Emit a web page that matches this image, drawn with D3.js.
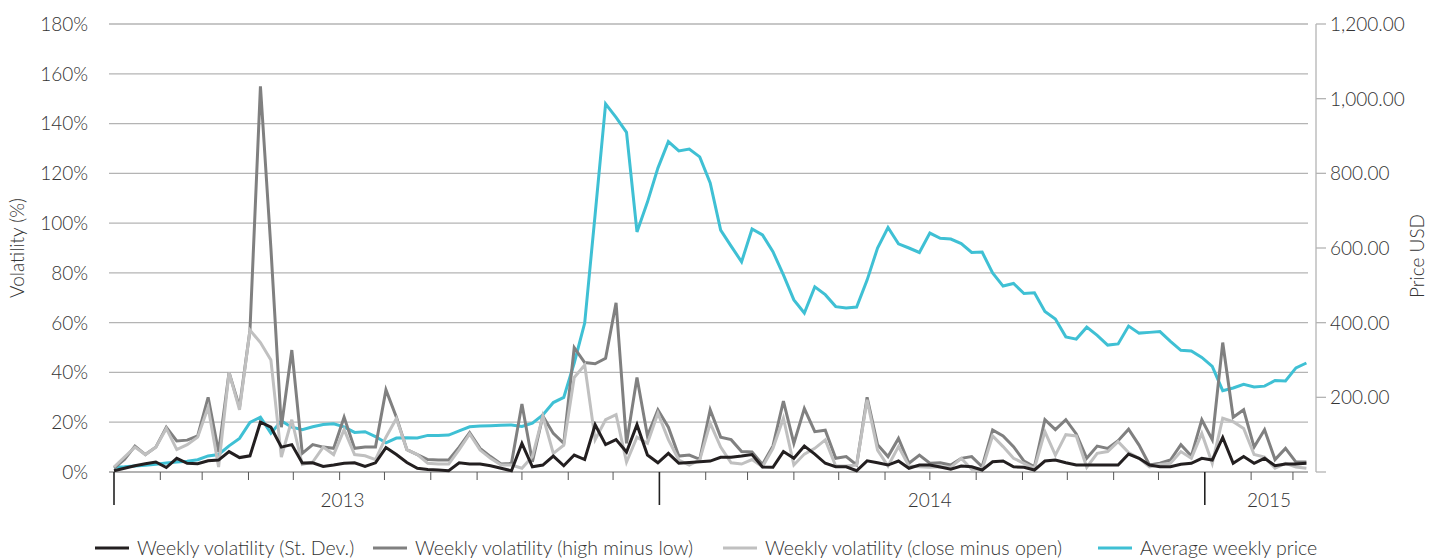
<!DOCTYPE html>
<html>
<head>
<meta charset="utf-8">
<script src="https://cdn.jsdelivr.net/npm/d3@7"></script>
<style>
  html, body { margin: 0; padding: 0; background: #fff; }
  svg text { font-family: Lato, "Open Sans", sans-serif; font-weight: 300; fill: #333333; }
</style>
</head>
<body>
<svg id="chart" width="1429" height="558"></svg>
<script>
// ---------- data ----------
const weekStart = "2013-01-01";
const stdDev = [0.5,1.5,2.5,3.3,4,1.8,5.5,3.5,3.3,4.5,
  4.8,8.2,5.8,6.5,20,18,10,11,3.6,3.7,
  2.2,2.8,3.5,3.7,2.2,3.7,9.8,7,3.8,1.5,
  1,0.8,0.5,3.7,3.2,3.2,2.5,1.5,0.5,11.5,
  2.1,2.8,6.4,2.5,6.8,5,19,11,13,8,
  19,6.8,3.7,7.5,3.5,3.8,4.1,4.4,5.9,5.9,
  6.4,7,2,1.9,8.2,5.5,10.4,7.2,3.5,2.1,
  2.1,0.5,4.5,3.7,2.8,4.4,1.5,2.8,2.8,2,
  1.1,2.4,2.1,0.8,4.1,4.4,2.1,1.9,0.8,4.4,
  4.8,3.7,2.8,2.8,2.8,2.8,2.8,7.2,5.5,2.8,
  2.1,2.1,3.1,3.5,5.5,4.8,13.9,3.5,6.2,3.5,
  5.5,2.5,3.2,3.2,3.5];
const highLow = [1.6,5,10.4,7,10,18,12.5,12.8,14.5,30,
  8,40,26,57,155,90,18,49,7.5,11,
  10,9.5,22,9.5,10,10,33,22,9,7,
  5,4.8,4.8,10,15.8,9.5,6.2,3.2,3.5,27.3,
  4.1,22.5,15.5,11.5,50,44,43.5,45.7,68,11.5,
  38,14.5,25,18,6.4,6.8,5.1,25,14,13,
  8.2,8,3,10.5,28.5,11.5,25.5,16.2,16.8,5.5,
  6.2,2.8,30,11,6.2,13.5,3.5,6.8,3.5,3.7,
  2.8,5.5,6.2,2.1,16.9,14.5,10.2,4.4,2.1,21,
  17,21,15.3,5.5,10.4,9.5,12.6,17.2,10.8,2.8,
  3.5,4.8,11,6.4,21,13,52,22,25,10,
  17,5,9.5,4,4];
const closeOpen = [2,6,10,7,10,17.5,9,11,14,26,
  2,40,25,57,52,45,6,21,3,4,
  10,7,17,7,6.5,5,14,21.5,9,7,
  3.5,3.2,3.2,9,15.3,8.8,5.5,2.8,2.8,1.5,
  6.2,22.5,7.5,10.8,38,43,13,21,23,4,
  14,11.5,23.6,13,4.8,2.8,4.8,19.6,10,3.7,
  3.2,5,2.1,9.5,21.6,2.8,7.2,9.5,12.9,2.4,
  2.4,2.8,29,8.8,2.4,10.2,2.4,2.1,1.9,2.1,
  1.9,5.5,1.1,1.1,14.5,10.2,5.5,3.5,1.5,16.2,
  6.8,15,14.5,1.9,7.5,8.2,12.2,7.8,5.5,2.1,
  3,3.5,8.2,5.5,15.5,3.5,21.6,20.2,17.5,7,
  6,1.5,3.5,2,1.5];
const avgPrice = [13,14,16,18,21,24,27,29,33,43,
  47,70,90,133,147,104,137,120,113,121,
  127,129,121,106,108,95,78,91,92,91,
  98,98,99,110,121,123,124,125,126,122,
  131,153,186,200,292,399,690,986,950,910,
  643,723,814,885,860,865,844,774,648,605,
  563,651,635,590,528,461,426,496,475,443,
  439,442,514,600,655,611,600,588,640,626,
  624,612,588,589,533,498,505,478,480,430,
  410,362,356,388,366,340,343,391,372,374,
  376,350,326,324,307,283,218,225,235,228,
  230,245,244,279,292];
const leftTicks = [0,20,40,60,80,100,120,140,160,180];
const rightTicks = [0,200,400,600,800,1000,1200];
const yearLabels = ["2013","2014","2015"];
const yearLabelDates = ["2013-06-03","2014-07-01","2015-02-13"];
const seriesNames = ["Weekly volatility (St. Dev.)","Weekly volatility (high minus low)","Weekly volatility (close minus open)","Average weekly price"];
const seriesColors = ["#231f20","#808080","#c0c0c0","#3fc0d4"];

// ---------- scales ----------
const svg = d3.select("#chart");
const start = new Date(weekStart + "T00:00:00Z");
const dates = avgPrice.map((_, i) => d3.utcDay.offset(start, 7 * i));
const plotL = 109, plotR = 1308, plotT = 24, plotB = 472;
const x = d3.scaleUtc().domain([dates[0], dates[dates.length - 1]]).range([114, 1306.4]);
const yL = d3.scaleLinear().domain([0, 180]).range([plotB, plotT]);
const yR = d3.scaleLinear().domain([0, 1200]).range([plotB, plotT]);
const fs = 19, legFs = 19.5;

// gridlines
svg.append("g").selectAll("line").data(leftTicks.filter(d => d > 0)).join("line")
  .attr("x1", plotL).attr("x2", plotR)
  .attr("y1", d => yL(d)).attr("y2", d => yL(d))
  .attr("stroke", "#b4b4b4").attr("stroke-width", 1.3);

// left labels
svg.append("g").selectAll("text").data(leftTicks).join("text")
  .attr("x", 88).attr("y", d => yL(d)).attr("dy", "0.36em")
  .attr("text-anchor", "end").attr("font-size", fs)
  .text(d => d + "%");

// right axis
const rAxis = svg.append("g");
rAxis.append("line").attr("x1", 1316).attr("x2", 1316).attr("y1", plotT).attr("y2", plotB)
  .attr("stroke", "#b4b4b4").attr("stroke-width", 1.3);
rAxis.selectAll("line.t").data(rightTicks).join("line").attr("class", "t")
  .attr("x1", 1316).attr("x2", 1326).attr("y1", d => yR(d)).attr("y2", d => yR(d))
  .attr("stroke", "#b4b4b4").attr("stroke-width", 1.3);
rAxis.selectAll("text").data(rightTicks.filter(d => d > 0)).join("text")
  .attr("x", 1330).attr("y", d => yR(d)).attr("dy", "0.36em")
  .attr("font-size", fs)
  .text(d => d3.format(",.2f")(d));

// axis titles
svg.append("text").attr("transform", "translate(24,248) rotate(-90)")
  .attr("text-anchor", "middle").attr("font-size", fs).text("Volatility (%)");
svg.append("text").attr("transform", "translate(1424,256) rotate(-90)")
  .attr("text-anchor", "middle").attr("font-size", fs).text("Price USD");

// baseline & month ticks
svg.append("line").attr("x1", plotL).attr("x2", plotR).attr("y1", plotB).attr("y2", plotB)
  .attr("stroke", "#9a9a9a").attr("stroke-width", 1.3);
const months = d3.utcMonth.range(new Date("2013-01-01T00:00:00Z"), new Date("2015-03-02T00:00:00Z"));
svg.append("g").selectAll("line").data(months).join("line")
  .attr("x1", d => x(d)).attr("x2", d => x(d))
  .attr("y1", plotB)
  .attr("y2", d => d.getUTCMonth() === 0 ? 505 : 480)
  .attr("stroke", d => d.getUTCMonth() === 0 ? "#222" : "#555")
  .attr("stroke-width", d => d.getUTCMonth() === 0 ? 1.6 : 1);
svg.append("g").selectAll("text").data(yearLabels).join("text")
  .attr("x", (d, i) => x(new Date(yearLabelDates[i] + "T00:00:00Z")))
  .attr("y", 507).attr("text-anchor", "middle").attr("font-size", fs)
  .text(d => d);

// lines
const lineL = d3.line().x((d, i) => x(dates[i])).y(d => yL(d));
const lineR = d3.line().x((d, i) => x(dates[i])).y(d => yR(d));
const g = svg.append("g").attr("fill", "none").attr("stroke-width", 3).attr("stroke-linejoin", "miter");
g.append("path").attr("d", lineR(avgPrice)).attr("stroke", seriesColors[3]);
g.append("path").attr("d", lineL(highLow)).attr("stroke", seriesColors[1]);
g.append("path").attr("d", lineL(closeOpen)).attr("stroke", seriesColors[2]);
g.append("path").attr("d", lineL(stdDev)).attr("stroke", seriesColors[0]);

// legend
const legX = [95, 373, 723, 1098];
const leg = svg.append("g");
seriesNames.forEach((name, i) => {
  leg.append("line").attr("x1", legX[i]).attr("x2", legX[i] + 34).attr("y1", 548).attr("y2", 548)
    .attr("stroke", seriesColors[i]).attr("stroke-width", 3);
  leg.append("text").attr("x", legX[i] + 42).attr("y", 548).attr("dy", "0.36em")
    .attr("font-size", legFs).text(name);
});
</script>
</body>
</html>
